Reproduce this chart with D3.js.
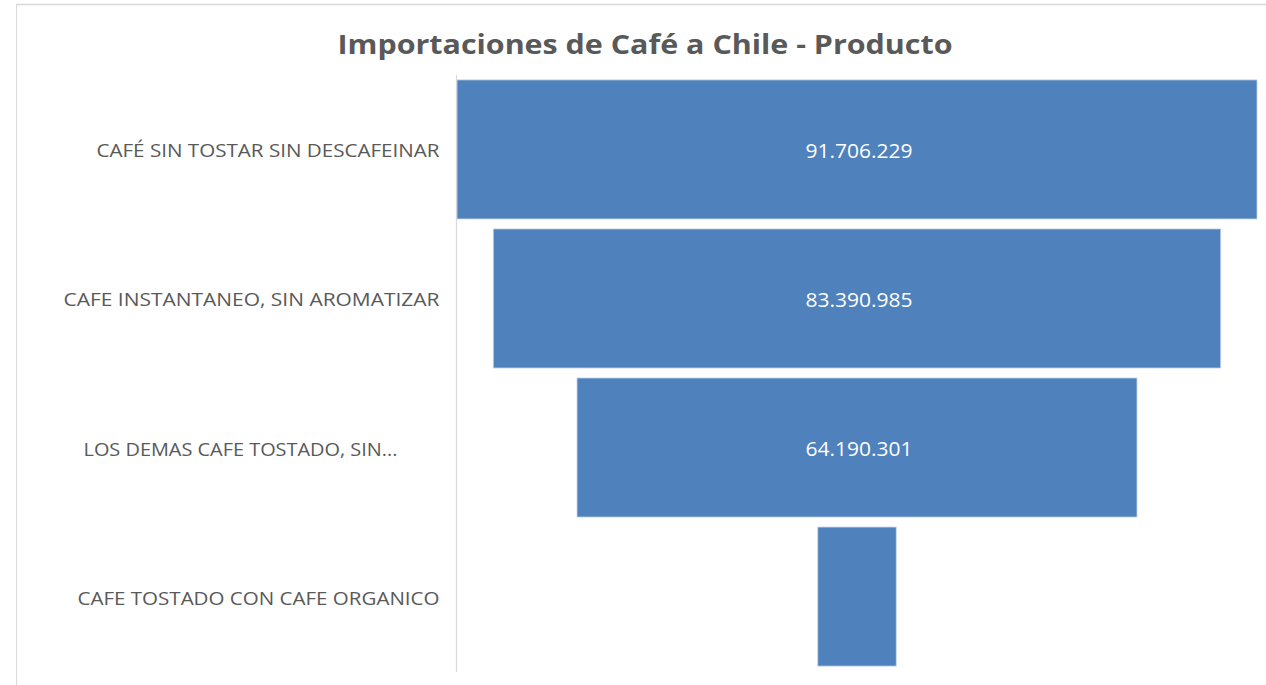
<!DOCTYPE html>
<html>
<head>
<meta charset="utf-8">
<script src="https://cdn.jsdelivr.net/npm/d3@7"></script>
<style>
  html, body { margin: 0; padding: 0; background: #fff; }
  svg { display: block; }
</style>
</head>
<body>
<div id="chart"></div>
<script>
// Funnel data
const categories = [
    'CAFÉ SIN TOSTAR SIN DESCAFEINAR',
    'CAFE INSTANTANEO, SIN AROMATIZAR',
    'LOS DEMAS CAFE TOSTADO, SIN...',
    'CAFE TOSTADO CON CAFE ORGANICO'
];
const values = [91706229, 83390985, 64190301, 8990000];
const showLabel = [true, true, true, false];

const title = 'Importaciones de Café a Chile - Producto';

const W = 1266, H = 685;
const barColor = '#4F81BD';
const textColor = '#595959';
const fontFamily = '"Open Sans", "Noto Sans", sans-serif';

const svg = d3.select('#chart').append('svg')
    .attr('width', W)
    .attr('height', H);

// chart frame
svg.append('line')
    .attr('x1', 16).attr('x2', W).attr('y1', 4.5).attr('y2', 4.5)
    .attr('stroke', '#d9d9d9').attr('stroke-width', 1.5);
svg.append('line')
    .attr('x1', 16.5).attr('x2', 16.5).attr('y1', 4).attr('y2', H)
    .attr('stroke', '#d9d9d9').attr('stroke-width', 1);

// Title
svg.append('text')
    .attr('x', 645)
    .attr('y', 54)
    .attr('text-anchor', 'middle')
    .attr('textLength', 615)
    .attr('lengthAdjust', 'spacingAndGlyphs')
    .style('font-family', fontFamily)
    .style('font-weight', '700')
    .style('font-size', '26px')
    .style('fill', textColor)
    .text(title);

// Scales
const yScale = d3.scaleBand()
    .domain(categories)
    .range([75, 671])
    .paddingInner(0.067)
    .paddingOuter(0.033);

const centerX = 857;
const wScale = d3.scaleLinear()
    .domain([0, d3.max(values)])
    .range([0, 800]);

// Category axis
const yAxis = svg.append('g')
    .attr('transform', 'translate(456.5,0)')
    .call(d3.axisLeft(yScale).tickSize(0).tickPadding(17));
yAxis.select('.domain').attr('stroke', '#d9d9d9').attr('stroke-width', 1.2)
    .attr('d', 'M0,75V672');
yAxis.selectAll('text')
    .attr('dy', '0.42em')
    .style('font-family', fontFamily)
    .style('font-size', '19px')
    .style('fill', textColor);

// label widths / right edges as seen in the reference
const labelWidths = [343, 376, 314, 362];
const labelShift = [0, 0, -42, 0];
yAxis.selectAll('text').each(function(d, i) {
    d3.select(this)
        .attr('x', -17 + labelShift[i])
        .attr('textLength', labelWidths[i])
        .attr('lengthAdjust', 'spacingAndGlyphs');
});

// Bars
const data = categories.map((c, i) => ({ cat: c, value: values[i], label: showLabel[i] }));

svg.selectAll('.bar')
    .data(data)
    .enter()
    .append('rect')
    .attr('class', 'bar')
    .attr('x', d => centerX - wScale(d.value) / 2)
    .attr('y', d => yScale(d.cat))
    .attr('width', d => wScale(d.value))
    .attr('height', yScale.bandwidth())
    .attr('fill', barColor)
    .attr('stroke', '#c5d4e8')
    .attr('stroke-width', 0.8);

// Value labels
const fmt = v => d3.format(',')(v).replace(/,/g, '.');
svg.selectAll('.val')
    .data(data.filter(d => d.label))
    .enter()
    .append('text')
    .attr('class', 'val')
    .attr('x', centerX + 2)
    .attr('y', d => yScale(d.cat) + yScale.bandwidth() / 2)
    .attr('dy', '0.42em')
    .attr('text-anchor', 'middle')
    .attr('textLength', 107)
    .attr('lengthAdjust', 'spacingAndGlyphs')
    .style('font-family', fontFamily)
    .style('font-size', '20px')
    .style('fill', '#ffffff')
    .text(d => fmt(d.value));
</script>
</body>
</html>
